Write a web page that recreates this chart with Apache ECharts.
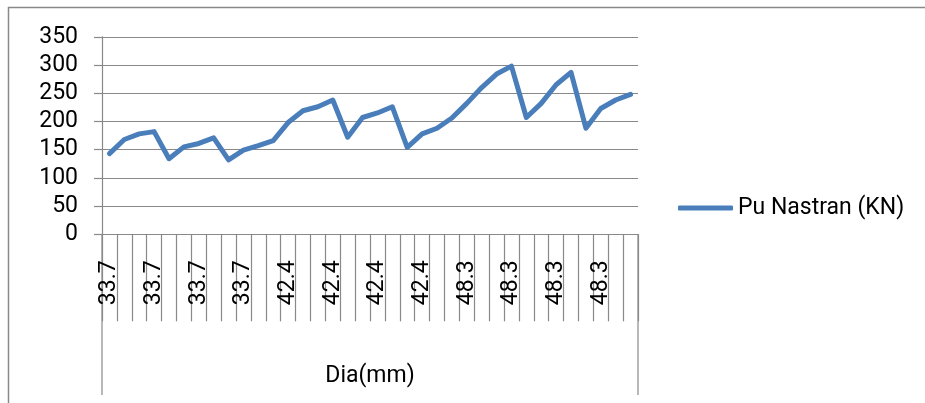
<!DOCTYPE html>
<html>
<head>
<meta charset="utf-8">
<script src="https://cdn.jsdelivr.net/npm/echarts@6/dist/echarts.min.js"></script>
<style>
html,body{margin:0;padding:0;background:#fff;}
#chart{width:925px;height:403px;}
</style>
</head>
<body>
<div id="chart"></div>
<script>
var categories = [
  '33.7','33.7','33.7','33.7','33.7','33.7','33.7','33.7','33.7','33.7','33.7','33.7',
  '42.4','42.4','42.4','42.4','42.4','42.4','42.4','42.4','42.4','42.4','42.4','42.4',
  '48.3','48.3','48.3','48.3','48.3','48.3','48.3','48.3','48.3','48.3','48.3','48.3'
];
var puNastran = [
  143, 168, 178, 182, 134, 155, 161, 171, 132, 149, 157, 166,
  198, 219, 226, 238, 172, 207, 215, 226, 154, 178, 188, 206,
  232, 260, 284, 298, 207, 232, 265, 287, 188, 223, 238, 248
];
var seriesName = 'Pu Nastran (KN)';
var axisGroupName = 'Dia(mm)';
var yTicks = {min: 0, max: 350, interval: 50};

var FONT = 'Roboto';
var GRAY = '#898989';
var BLUE = '#4A7EBB';
var chart = echarts.init(document.getElementById('chart'), null, {renderer: 'canvas'});
chart.setOption({
  animation: false,
  backgroundColor: '#fff',
  textStyle: {fontFamily: FONT, color: '#000'},
  grid: {left: 102, right: 287, top: 36.8, bottom: 168.7, containLabel: false},
  legend: {
    data: [{name: seriesName, icon: 'roundRect'}],
    left: 678, top: 194, padding: 0,
    itemWidth: 55, itemHeight: 5, itemGap: 0,
    itemStyle: {color: BLUE, borderWidth: 0},
    textStyle: {fontFamily: FONT, fontSize: 23, color: '#000', lineHeight: 28}
  },
  xAxis: {
    type: 'category',
    data: categories,
    boundaryGap: true,
    name: axisGroupName,
    nameLocation: 'middle',
    nameGap: 130,
    nameTextStyle: {fontFamily: FONT, fontSize: 23, color: '#000'},
    axisLine: {show: true, lineStyle: {color: GRAY, width: 1.2}},
    axisTick: {show: true, interval: 0, length: 87, alignWithLabel: false, lineStyle: {color: GRAY, width: 1.2}},
    axisLabel: {interval: 2, rotate: 90, margin: 26, fontFamily: FONT, fontSize: 23, color: '#000'},
    splitLine: {show: false}
  },
  yAxis: {
    type: 'value',
    min: yTicks.min, max: yTicks.max, interval: yTicks.interval,
    axisLine: {show: true, lineStyle: {color: GRAY, width: 1.2}},
    axisTick: {show: true, length: 8, lineStyle: {color: GRAY, width: 1.2}},
    axisLabel: {margin: 24, fontFamily: FONT, fontSize: 23, color: '#000'},
    splitLine: {show: true, lineStyle: {color: GRAY, width: 1.2}}
  },
  series: [{
    name: seriesName,
    type: 'line',
    data: puNastran,
    symbol: 'none',
    showSymbol: false,
    smooth: false,
    lineStyle: {color: BLUE, width: 5, cap: 'round', join: 'round'},
    itemStyle: {color: BLUE}
  }],
  graphic: [
    {type: 'rect', silent: true, shape: {x: 8.5, y: 7.5, width: 940, height: 420},
     style: {fill: null, stroke: GRAY, lineWidth: 1.5}},
    {type: 'line', silent: true, shape: {x1: 102, y1: 234, x2: 102, y2: 395},
     style: {stroke: GRAY, lineWidth: 1.2}},
    {type: 'line', silent: true, shape: {x1: 638, y1: 234, x2: 638, y2: 395},
     style: {stroke: GRAY, lineWidth: 1.2}}
  ]
});
</script>
</body>
</html>
